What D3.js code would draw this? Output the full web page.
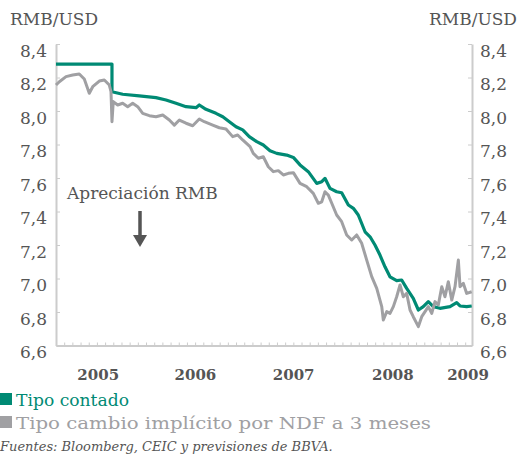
<!DOCTYPE html>
<html>
<head>
<meta charset="utf-8">
<script src="https://cdn.jsdelivr.net/npm/d3@7"></script>
<style>
  html, body { margin: 0; padding: 0; background: #ffffff; }
  svg { display: block; }
  text { font-family: "DejaVu Serif", "Liberation Serif", serif; }
</style>
</head>
<body>
<svg id="chart" width="518" height="462"></svg>
<script>
// ---------- DATA (decimal year, RMB per USD) ----------
const spotSeries = [
  [2005.000, 8.28], [2005.570, 8.28], [2005.570, 8.115], [2005.679, 8.10], [2005.848, 8.09],
  [2006.018, 8.08], [2006.120, 8.066], [2006.222, 8.046], [2006.324, 8.026], [2006.426, 8.02],
  [2006.459, 8.036], [2006.527, 8.01], [2006.629, 7.986], [2006.698, 7.966], [2006.765, 7.936],
  [2006.833, 7.906], [2006.901, 7.887], [2006.968, 7.847], [2007.044, 7.817], [2007.111, 7.797],
  [2007.179, 7.763], [2007.248, 7.747], [2007.349, 7.737], [2007.417, 7.723], [2007.485, 7.678],
  [2007.569, 7.638], [2007.655, 7.568], [2007.706, 7.578], [2007.739, 7.598], [2007.790, 7.538],
  [2007.858, 7.518], [2007.909, 7.512], [2007.977, 7.439], [2008.028, 7.419], [2008.078, 7.379],
  [2008.147, 7.279], [2008.198, 7.249], [2008.248, 7.200], [2008.299, 7.140], [2008.350, 7.070],
  [2008.401, 7.010], [2008.469, 6.987], [2008.520, 6.991], [2008.571, 6.941], [2008.638, 6.882],
  [2008.690, 6.812], [2008.740, 6.832], [2008.791, 6.862], [2008.842, 6.832], [2008.910, 6.822],
  [2009.012, 6.832], [2009.080, 6.856], [2009.114, 6.836], [2009.182, 6.832], [2009.233, 6.836]
];
const ndfSeries = [
  [2005.000, 8.155], [2005.034, 8.175], [2005.102, 8.205], [2005.170, 8.215], [2005.237, 8.221],
  [2005.288, 8.191], [2005.339, 8.106], [2005.374, 8.145], [2005.441, 8.179], [2005.492, 8.185],
  [2005.543, 8.155], [2005.560, 8.115], [2005.570, 7.936], [2005.583, 8.056], [2005.628, 8.036],
  [2005.679, 8.046], [2005.730, 8.026], [2005.781, 8.046], [2005.832, 8.026], [2005.883, 7.986],
  [2005.950, 7.972], [2006.018, 7.966], [2006.087, 7.976], [2006.154, 7.946], [2006.205, 7.916],
  [2006.256, 7.946], [2006.324, 7.927], [2006.392, 7.912], [2006.459, 7.952], [2006.510, 7.936],
  [2006.596, 7.916], [2006.663, 7.900], [2006.731, 7.893], [2006.799, 7.847], [2006.850, 7.857],
  [2006.901, 7.827], [2006.976, 7.787], [2007.009, 7.747], [2007.060, 7.718], [2007.111, 7.727],
  [2007.162, 7.667], [2007.213, 7.638], [2007.264, 7.644], [2007.315, 7.618], [2007.366, 7.628],
  [2007.417, 7.632], [2007.485, 7.568], [2007.553, 7.548], [2007.620, 7.508], [2007.671, 7.449],
  [2007.706, 7.458], [2007.739, 7.518], [2007.773, 7.498], [2007.808, 7.449], [2007.858, 7.379],
  [2007.909, 7.339], [2007.960, 7.260], [2008.011, 7.230], [2008.062, 7.260], [2008.113, 7.210],
  [2008.164, 7.110], [2008.215, 7.011], [2008.266, 6.941], [2008.317, 6.832], [2008.333, 6.752],
  [2008.368, 6.802], [2008.401, 6.792], [2008.435, 6.832], [2008.469, 6.891], [2008.503, 6.961],
  [2008.537, 6.891], [2008.571, 6.911], [2008.605, 6.812], [2008.638, 6.772], [2008.690, 6.713],
  [2008.724, 6.772], [2008.758, 6.802], [2008.791, 6.832], [2008.826, 6.792], [2008.859, 6.862],
  [2008.893, 6.842], [2008.928, 6.951], [2008.961, 6.891], [2008.995, 6.981], [2009.030, 6.871],
  [2009.063, 6.951], [2009.097, 7.110], [2009.114, 6.951], [2009.148, 6.971], [2009.182, 6.911],
  [2009.233, 6.921]
];
const yTickValues = [6.6, 6.8, 7.0, 7.2, 7.4, 7.6, 7.8, 8.0, 8.2, 8.4];
const xLabelTexts = ["2005", "2006", "2007", "2008", "2009"];
const xLabelAt = [2005.43, 2006.42, 2007.42, 2008.43, 2009.196];
const seriesNames = ["Tipo contado", "Tipo cambio implícito por NDF a 3 meses"];
const unitLabel = "RMB/USD";
const annotationText = "Apreciación RMB";
const sourceText = "Fuentes: Bloomberg, CEIC y previsiones de BBVA.";

// ---------- STYLE ----------
const GREEN = "#008a74";
const GREY = "#a0a0a3";
const AXIS = "#cccccc";
const TEXT = "#555555";
const legendWidths = [113, 415];

const svg = d3.select("#chart");
const x = d3.scaleLinear().domain([2005.0, 2009.236]).range([56, 472]);
const y = d3.scaleLinear().domain([6.6, 8.4]).range([345.5, 44]);
const fmt = v => d3.format(".1f")(v).replace(".", ",");

// Axes
const monthTicks = d3.range(0, 51).map(i => 2005 + i / 12);

const gB = svg.append("g").attr("transform", `translate(0,${y(6.6)})`)
  .call(d3.axisBottom(x).tickValues(monthTicks).tickSize(-3).tickSizeOuter(0).tickFormat(""));
const gL = svg.append("g").attr("transform", `translate(${x(2005)},0)`)
  .call(d3.axisLeft(y).tickValues(yTickValues).tickSize(-4).tickSizeOuter(0).tickPadding(9).tickFormat(fmt));
const gR = svg.append("g").attr("transform", `translate(${x(2009.236)},0)`)
  .call(d3.axisRight(y).tickValues(yTickValues).tickSize(-4).tickSizeOuter(0).tickPadding(8).tickFormat(fmt));

[gB, gL, gR].forEach(g => {
  g.select(".domain").attr("stroke", AXIS).attr("stroke-width", 2);
  g.selectAll(".tick line").attr("stroke", AXIS).attr("stroke-width", 1);
});
[gL, gR].forEach(g => {
  g.selectAll(".tick text")
    .attr("dy", "0.71em")
    .attr("fill", TEXT)
    .style("font-family", '"DejaVu Serif", serif')
    .style("font-size", "17px");
});

// X labels
svg.append("g").selectAll("text").data(xLabelTexts).join("text")
  .attr("x", (d, i) => x(xLabelAt[i]))
  .attr("y", 380)
  .attr("text-anchor", "middle")
  .attr("fill", TEXT)
  .style("font-size", "15px")
  .style("font-weight", "bold")
  .text(d => d);

// Lines
const line = d3.line().x(d => x(d[0])).y(d => y(d[1])).curve(d3.curveLinear);
svg.append("path").datum(spotSeries).attr("d", line)
  .attr("fill", "none").attr("stroke", GREEN).attr("stroke-width", 3.2).attr("stroke-linejoin", "round");
svg.append("path").datum(ndfSeries).attr("d", line)
  .attr("fill", "none").attr("stroke", GREY).attr("stroke-width", 3).attr("stroke-linejoin", "round");

// Unit labels
svg.append("text").attr("x", 10).attr("y", 25).attr("fill", TEXT).style("font-size", "17px").text(unitLabel);
svg.append("text").attr("x", 517).attr("y", 25).attr("text-anchor", "end").attr("fill", TEXT).style("font-size", "17px").text(unitLabel);

// Annotation
svg.append("text").attr("x", 67).attr("y", 199).attr("fill", TEXT).style("font-size", "17px").text(annotationText);
svg.append("line").attr("x1", 140).attr("x2", 140).attr("y1", 211).attr("y2", 236)
  .attr("stroke", TEXT).attr("stroke-width", 3.5);
svg.append("path").attr("d", "M133,235 L147,235 L140,247 Z").attr("fill", TEXT);

// Legend
const legendColors = [GREEN, GREY];
const lg = svg.append("g").selectAll("g").data(seriesNames).join("g")
  .attr("transform", (d, i) => `translate(0,${393 + i * 23})`);
lg.append("rect").attr("x", 0).attr("y", 0).attr("width", 12).attr("height", 12)
  .attr("fill", (d, i) => legendColors[i]);
lg.append("text").attr("x", 16).attr("y", 12.5)
  .attr("fill", (d, i) => legendColors[i])
  .attr("textLength", (d, i) => legendWidths[i])
  .attr("lengthAdjust", "spacingAndGlyphs")
  .style("font-size", "17px")
  .text(d => d);

// Source
svg.append("text").attr("x", 0).attr("y", 451).attr("fill", TEXT)
  .style("font-size", "13px").style("font-style", "italic").text(sourceText);
</script>
</body>
</html>
